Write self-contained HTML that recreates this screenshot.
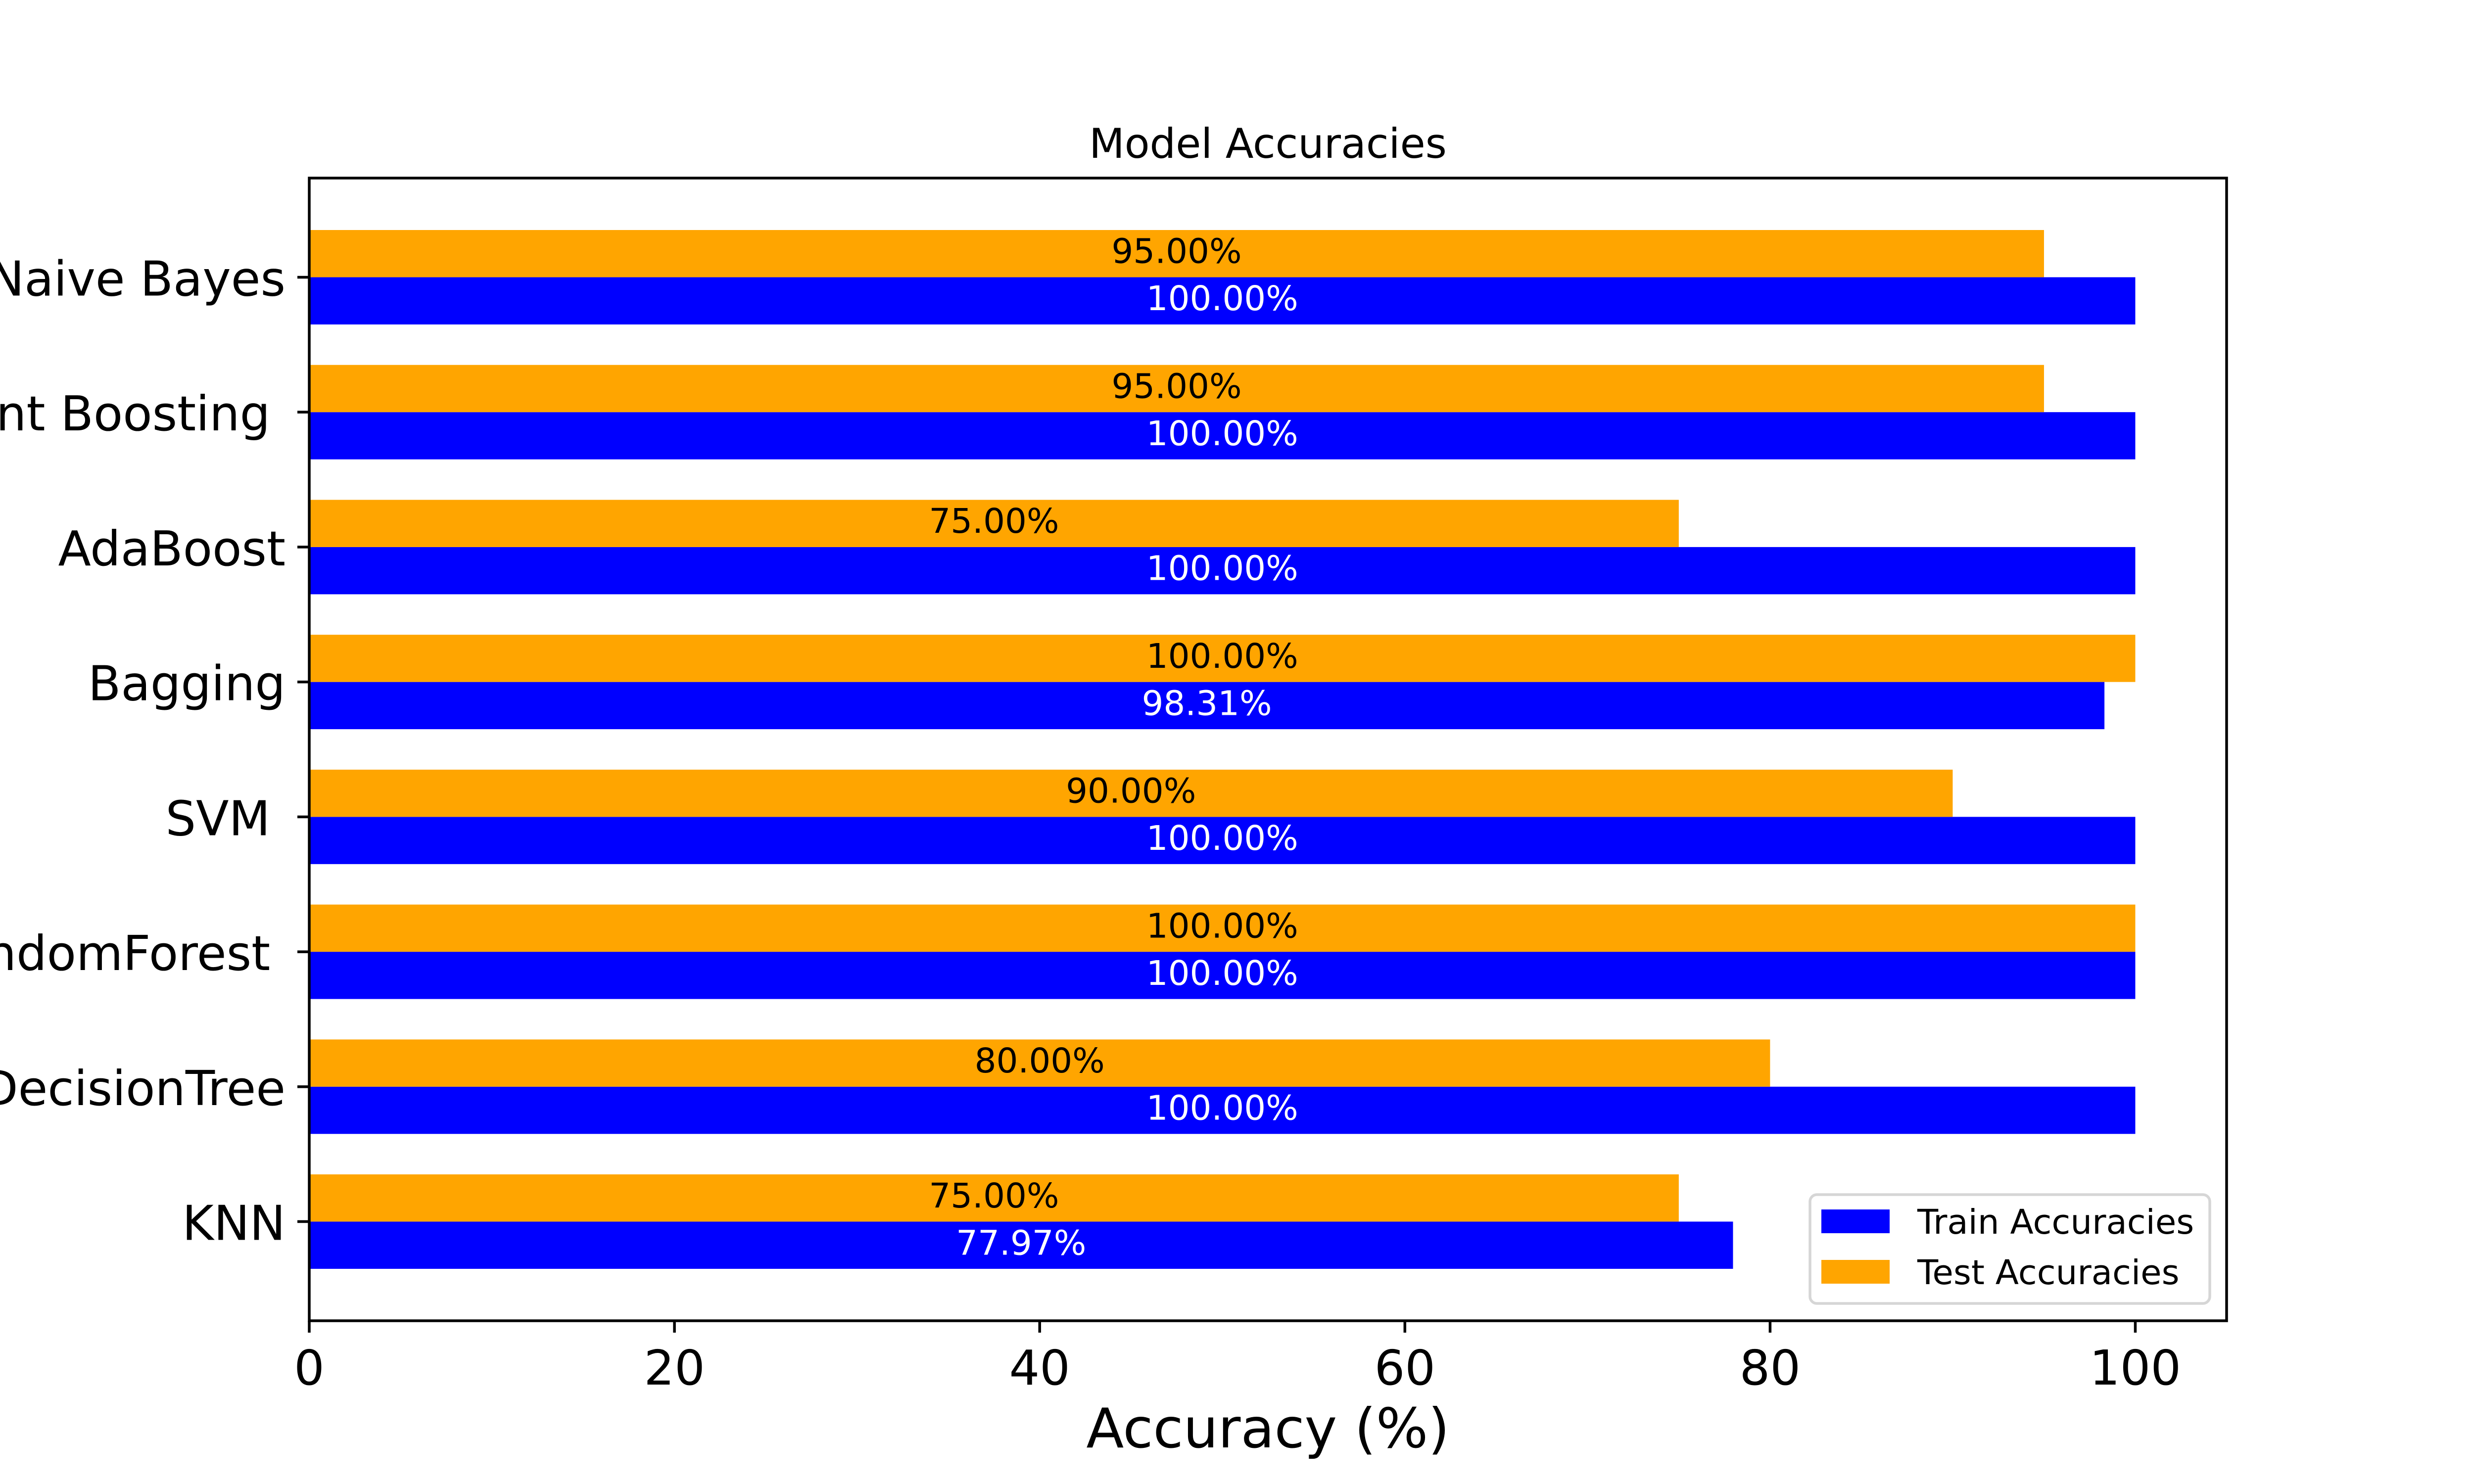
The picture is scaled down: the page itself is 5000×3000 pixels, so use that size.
<!DOCTYPE html>
<html><head><meta charset="utf-8"><style>html,body{margin:0;padding:0;background:#fff}svg{display:block}</style></head>
<body>
<svg id="chart" xmlns="http://www.w3.org/2000/svg" width="5000" height="3000" viewBox="0 0 5000 3000" font-family="'DejaVu Sans','Liberation Sans',sans-serif">
<rect width="5000" height="3000" fill="#fff"/>
<g id="bars"></g>
<g id="axes"></g>
</svg>
<script>
const categories = ["KNN", "DecisionTree", "RandomForest ", "SVM ", "Bagging", "AdaBoost", "Gradient Boosting ", "Naive Bayes"];
const trainValues = [77.97, 100, 100, 100, 98.31, 100, 100, 100];
const testValues = [75, 80, 100, 90, 100, 75, 95, 95];
const xTicks = [0, 20, 40, 60, 80, 100];

const L = 625, R = 4500, T = 360, B = 2670;
const xMin = 0, xMax = 105, yMin = -0.735, yMax = 7.735;
const barH = 0.35;
const NS = "http://www.w3.org/2000/svg";
function xs(v){ return L + (v - xMin) / (xMax - xMin) * (R - L); }
function ys(v){ return B - (v - yMin) / (yMax - yMin) * (B - T); }
function mk(tag, attrs, parent){ const e = document.createElementNS(NS, tag); for (const k in attrs) e.setAttribute(k, attrs[k]); parent.appendChild(e); return e; }
const gb = document.getElementById('bars');
const ga = document.getElementById('axes');
const svg = document.getElementById('chart');

categories.forEach((c, i) => {
  const pairs = [[trainValues[i], i - barH/2, '#0000ff', '#ffffff', 'train'], [testValues[i], i + barH/2, '#ffa500', '#000000', 'test']];
  pairs.forEach(p => {
    const [v, yc, fill, tc, s] = p;
    const r = mk('rect', {x: xs(0), y: ys(yc + barH/2), width: xs(v) - xs(0), height: ys(yc - barH/2) - ys(yc + barH/2), fill: fill}, gb);
    
    
    const t = mk('text', {x: xs(v/2), y: ys(yc) + 19, 'text-anchor': 'middle', 'font-size': 69, fill: tc}, gb);
    t.textContent = v.toFixed(2) + '%';
    
    
  });
  const tk = mk('line', {x1: L, x2: L - 24, y1: ys(i), y2: ys(i), stroke: '#000', 'stroke-width': 5.5}, ga);
  
  
  const lb = mk('text', {x: L - 48, y: ys(i) + 37, 'text-anchor': 'end', 'font-size': 97, fill: '#000'}, ga);
  lb.setAttribute('xml:space', 'preserve');
  lb.style.whiteSpace = 'pre';
  lb.textContent = c;
  
  
});

xTicks.forEach(v => {
  const tk = mk('line', {x1: xs(v), x2: xs(v), y1: B, y2: B + 24, stroke: '#000', 'stroke-width': 5.5}, ga);
  
  
  const lb = mk('text', {x: xs(v), y: B + 129, 'text-anchor': 'middle', 'font-size': 97, fill: '#000'}, ga);
  lb.textContent = v;
  
  
});

const frame = mk('rect', {x: L, y: T, width: R - L, height: B - T, fill: 'none', stroke: '#000', 'stroke-width': 5.5, 'stroke-linecap': 'square'}, ga);



const title = mk('text', {x: (L + R)/2, y: 319, 'text-anchor': 'middle', 'font-size': 83, fill: '#000'}, svg);
title.textContent = 'Model Accuracies';



const xl = mk('text', {x: (L + R)/2, y: 2926, 'text-anchor': 'middle', 'font-size': 111, fill: '#000'}, svg);
xl.textContent = 'Accuracy (%)';



const lg = mk('g', {}, svg);


mk('rect', {x: 3658, y: 2415, width: 808, height: 220, rx: 14, fill: '#fff', 'fill-opacity': 0.8, stroke: '#d6d6d6', 'stroke-width': 5.5}, lg);
const entries = [['Train Accuracies', '#0000ff', 2475], ['Test Accuracies', '#ffa500', 2577]];
entries.forEach(e => {
  const sw = mk('rect', {x: 3681, y: e[2] - 30, width: 138, height: 48, fill: e[1]}, lg);
  
  
  const t = mk('text', {x: 3875, y: e[2] + 19, 'font-size': 69, fill: '#000'}, lg);
  t.textContent = e[0];
  
  
});
</script>
</body></html>
